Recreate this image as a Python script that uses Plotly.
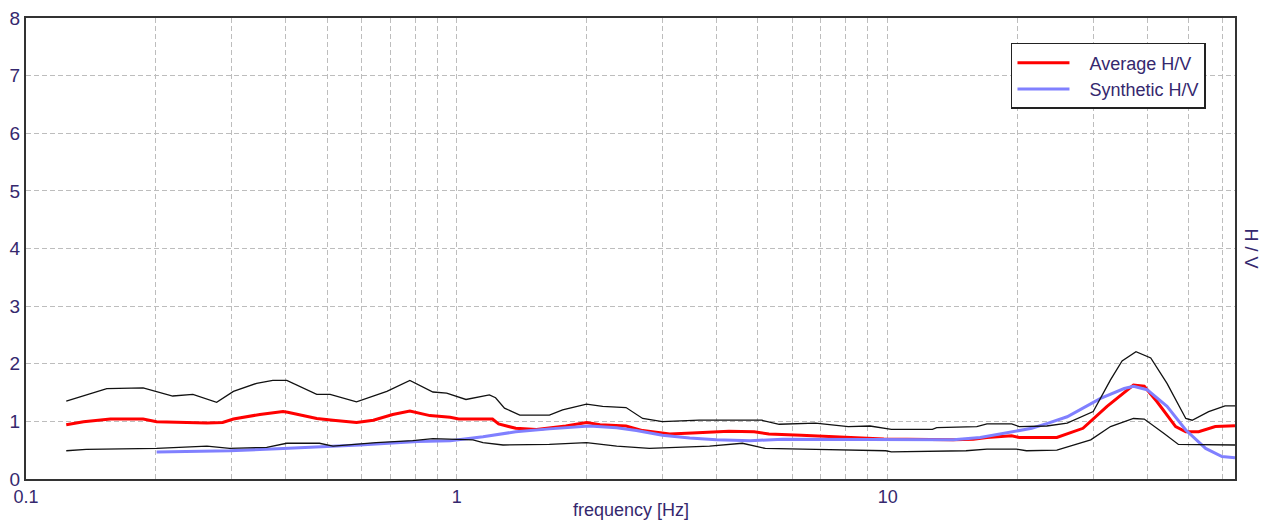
import math
import plotly.graph_objects as go

# ---- data ----
upper_f = [0.124, 0.154, 0.187, 0.201, 0.219, 0.244, 0.277, 0.303, 0.343, 0.374, 0.403, 0.473,
           0.508, 0.585, 0.688, 0.778, 0.88, 0.947, 1.05, 1.19, 1.23, 1.29, 1.40, 1.64, 1.76,
           2.00, 2.18, 2.47, 2.70, 3.00, 3.65, 5.1, 5.6, 6.8, 8.1, 9.1, 10.2, 12.7, 13.0, 16.1,
           17.0, 19.4, 20.2, 23.4, 26.1, 30.0, 32.9, 35.0, 37.7, 40.8, 44.5, 49.2, 50.9, 55.6,
           60.7, 64.0]
upper_v = [1.35, 1.57, 1.58, 1.51, 1.44, 1.47, 1.33, 1.52, 1.66, 1.71, 1.71, 1.47,
           1.47, 1.34, 1.52, 1.71, 1.51, 1.49, 1.38, 1.46, 1.41, 1.23, 1.11, 1.11, 1.20,
           1.30, 1.26, 1.24, 1.05, 0.995, 1.02, 1.02, 0.95, 0.97, 0.91, 0.92, 0.86, 0.86, 0.89, 0.91,
           0.955, 0.955, 0.91, 0.92, 0.97, 1.17, 1.72, 2.05, 2.21, 2.10, 1.66, 1.05, 1.02, 1.17,
           1.27, 1.27]

avg_f = [0.124, 0.136, 0.157, 0.187, 0.201, 0.263, 0.286, 0.303, 0.349, 0.395, 0.405, 0.473,
         0.516, 0.585, 0.64, 0.71, 0.778, 0.866, 0.965, 1.01, 1.21, 1.25, 1.37, 1.53, 1.79,
         2.00, 2.15, 2.47, 2.70, 3.12, 3.52, 4.28, 4.9, 5.3, 6.3, 8.1, 9.8, 14.2, 15.8, 17.0,
         19.4, 20.2, 24.7, 28.4, 32.3, 37.2, 39.4, 42.2, 46.6, 49.2, 52.7, 57.6, 64.0]
avg_v = [0.94, 0.995, 1.04, 1.04, 0.995, 0.97, 0.98, 1.04, 1.12, 1.17, 1.16, 1.05,
         1.02, 0.98, 1.02, 1.12, 1.18, 1.10, 1.07, 1.04, 1.04, 0.955, 0.88, 0.86, 0.92,
         0.98, 0.94, 0.92, 0.84, 0.78, 0.80, 0.83, 0.82, 0.78, 0.76, 0.72, 0.695, 0.68, 0.69, 0.72,
         0.75, 0.72, 0.72, 0.88, 1.26, 1.63, 1.61, 1.34, 0.91, 0.82, 0.82, 0.91, 0.925]

lower_f = [0.124, 0.138, 0.201, 0.263, 0.297, 0.362, 0.403, 0.48, 0.516, 0.65, 0.79, 0.88,
           1.09, 1.15, 1.28, 1.64, 2.00, 2.35, 2.8, 3.86, 4.6, 5.2, 6.8, 9.9, 10.2, 15.2,
           17.0, 19.9, 21.0, 24.7, 29.6, 32.9, 37.2, 39.4, 43.8, 47.3, 64.0]
lower_v = [0.49, 0.515, 0.53, 0.57, 0.53, 0.55, 0.62, 0.62, 0.57, 0.63, 0.665, 0.70,
           0.68, 0.63, 0.59, 0.60, 0.63, 0.57, 0.53, 0.57, 0.62, 0.53, 0.515, 0.49, 0.47, 0.49,
           0.52, 0.52, 0.49, 0.50, 0.68, 0.91, 1.05, 1.04, 0.79, 0.60, 0.59]

syn_f = [0.201, 0.297, 0.395, 0.595, 0.81, 0.965, 1.15, 1.37, 1.64, 2.03, 2.35, 2.61, 3.0,
         3.47, 4.0, 4.8, 5.7, 8.1, 11.7, 14.2, 16.4, 19.4, 21.6, 23.4, 26.1, 31.2, 35.4, 37.2,
         40.0, 44.5, 49.2, 54.7, 59.7, 64.0]
syn_v = [0.47, 0.49, 0.53, 0.59, 0.65, 0.665, 0.735, 0.82, 0.87, 0.92, 0.89, 0.84, 0.76,
         0.71, 0.68, 0.665, 0.69, 0.69, 0.68, 0.68, 0.72, 0.82, 0.88, 0.96, 1.08, 1.40, 1.57, 1.61,
         1.55, 1.26, 0.85, 0.53, 0.39, 0.37]

series_names = ["Average H/V", "Synthetic H/V"]
x_title = "frequency [Hz]"
y_title = "H / V"
decades = [0.1, 1, 10]
multipliers = [1, 2, 3, 4, 5, 6, 7, 8, 9]
x_max = 64.0
y_ticks = [0, 1, 2, 3, 4, 5, 6, 7, 8]

tickvals, ticktext = [], []
for d in decades:
    for m in multipliers:
        v = d * m
        if v <= x_max:
            tickvals.append(v)
            ticktext.append(f"{d:g}" if m == 1 else "")

TXT = "#35286e"
FONT = "Liberation Sans, Arial, sans-serif"
PAD = "\u00a0\u00a0\u00a0"

fig = go.Figure()
fig.add_trace(go.Scatter(x=avg_f, y=avg_v, mode="lines", name=PAD + series_names[0],
                         line=dict(color="#ff0000", width=3)))
fig.add_trace(go.Scatter(x=syn_f, y=syn_v, mode="lines", name=PAD + series_names[1],
                         line=dict(color="#8080ff", width=3)))
fig.add_trace(go.Scatter(x=upper_f, y=upper_v, mode="lines", showlegend=False,
                         line=dict(color="#111111", width=1.3)))
fig.add_trace(go.Scatter(x=lower_f, y=lower_v, mode="lines", showlegend=False,
                         line=dict(color="#111111", width=1.3)))

fig.update_xaxes(type="log", range=[math.log10(0.1), math.log10(x_max)],
                 tickvals=tickvals, ticktext=ticktext, ticks="",
                 showgrid=True, gridcolor="#bdbdbd", griddash="5px,3px", gridwidth=1,
                 showline=True, mirror=True, linecolor="#333333", linewidth=2,
                 zeroline=False, automargin=False, ticklabeloverflow="allow",
                 tickfont=dict(size=18, color=TXT, family=FONT))
fig.update_yaxes(range=[0, 8], tickvals=y_ticks, ticks="",
                 showgrid=True, gridcolor="#bdbdbd", griddash="5px,3px", gridwidth=1,
                 showline=True, mirror=True, linecolor="#333333", linewidth=2,
                 zeroline=False, automargin=False, ticklabeloverflow="allow",
                 tickfont=dict(size=19, color=TXT, family=FONT))

fig.add_annotation(text=x_title, xref="paper", yref="paper", x=0.5, y=0.0,
                   xanchor="center", yanchor="middle", yshift=-31, showarrow=False,
                   font=dict(size=18, color=TXT, family=FONT))
fig.add_annotation(text=y_title, xref="paper", yref="paper", x=1.0, y=0.5,
                   xanchor="center", yanchor="middle", xshift=16, textangle=90, showarrow=False,
                   font=dict(size=18, color=TXT, family=FONT))

fig.update_layout(
    width=1255, height=516,
    margin=dict(l=18, r=28, t=10, b=45),
    paper_bgcolor="white", plot_bgcolor="white",
    font=dict(family=FONT, color=TXT),
    legend=dict(x=0.8147, y=0.9458, xanchor="left", yanchor="top",
                bgcolor="white", bordercolor="#222222", borderwidth=1.5,
                font=dict(size=18, color=TXT, family=FONT), itemwidth=52,
                tracegroupgap=0),
)

fig.write_html("out.html")
